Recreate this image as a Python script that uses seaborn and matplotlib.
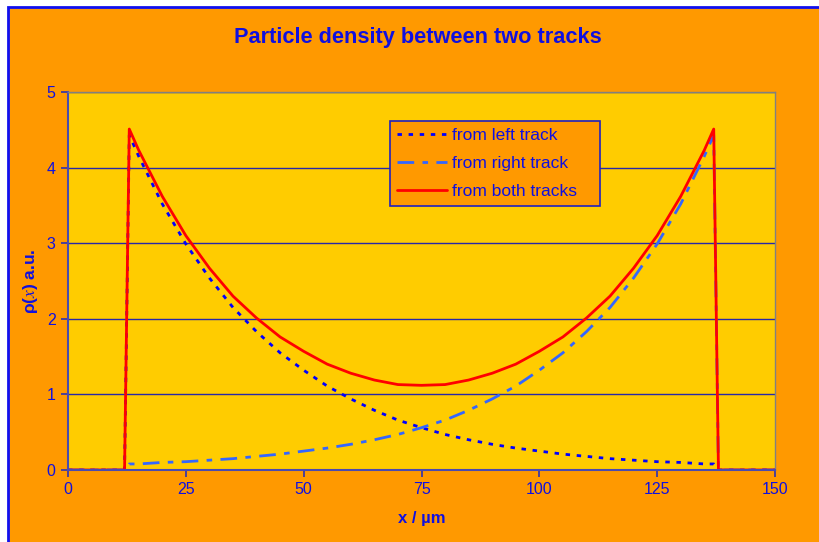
import matplotlib
matplotlib.use("Agg")
import matplotlib.pyplot as plt
from matplotlib.patches import Rectangle
import pandas as pd
import seaborn as sns

# Position across the gap between the tracks (µm)
x_um = [0, 5, 10, 12, 13, 15, 20, 25, 30, 35, 40, 45, 50, 55, 60, 65, 70, 75,
        80, 85, 90, 95, 100, 105, 110, 115, 120, 125, 130, 135, 137, 138, 140, 145, 150]

# Density contributions (arbitrary units)
from_left = [0, 0, 0, 0, 4.43, 4.15, 3.52, 2.99, 2.54, 2.15, 1.83, 1.55, 1.32, 1.11,
             0.94, 0.79, 0.66, 0.56, 0.47, 0.40, 0.34, 0.29, 0.25, 0.21, 0.18, 0.15,
             0.13, 0.11, 0.10, 0.08, 0.08, 0, 0, 0, 0]
from_right = [0, 0, 0, 0, 0.08, 0.08, 0.10, 0.11, 0.13, 0.15, 0.18, 0.21, 0.25, 0.29,
              0.34, 0.40, 0.47, 0.56, 0.66, 0.79, 0.94, 1.11, 1.32, 1.55, 1.83, 2.15,
              2.54, 2.99, 3.52, 4.15, 4.43, 0, 0, 0, 0]
from_both = [0, 0, 0, 0, 4.51, 4.23, 3.62, 3.10, 2.67, 2.30, 2.01, 1.76, 1.57, 1.40,
             1.28, 1.19, 1.13, 1.12, 1.13, 1.19, 1.28, 1.40, 1.57, 1.76, 2.01, 2.30,
             2.67, 3.10, 3.62, 4.23, 4.51, 0, 0, 0, 0]

x_ticks = [0, 25, 50, 75, 100, 125, 150]
y_ticks = [0, 1, 2, 3, 4, 5]

df = pd.DataFrame({"x": x_um, "left": from_left, "right": from_right, "both": from_both})

sns.set_theme(style="white")
plt.rcParams["font.family"] = ["Liberation Sans", "DejaVu Sans"]
plt.rcParams["mathtext.fontset"] = "stix"

ORANGE = "#FF9900"
YELLOW = "#FFCC00"
BLUE_TXT = "#1010E0"

fig = plt.figure(figsize=(8.19, 5.42), dpi=100, facecolor="white")
# Chart area frame behind everything
frame = Rectangle((8 / 819, -0.05), 1.1, 1.05 - 7 / 542,
                  transform=fig.transFigure, facecolor=ORANGE,
                  edgecolor="#1010F0", linewidth=2.0, zorder=-10)
fig.add_artist(frame)

ax = fig.add_axes([68 / 819, 1 - 470 / 542, 707 / 819, 378 / 542])
ax.set_zorder(5)
ax.set_facecolor(YELLOW)

sns.lineplot(data=df, x="x", y="left", ax=ax, color="#0000FF", lw=2.0,
             linestyle=(0, (1.6, 2.4)), label="from left track")
sns.lineplot(data=df, x="x", y="right", ax=ax, color="#3366FF", lw=2.0,
             linestyle=(0, (6, 3, 2, 3)), label="from right track")
sns.lineplot(data=df, x="x", y="both", ax=ax, color="#FF0000", lw=2.0,
             label="from both tracks")

ax.set_xlim(0, 150)
ax.set_ylim(0, 5)
ax.set_xticks(x_ticks)
ax.set_yticks(y_ticks)
ax.yaxis.grid(True, color="#2828A8", lw=1.0)
ax.xaxis.grid(False)
ax.set_axisbelow(True)

for side in ["left", "bottom"]:
    ax.spines[side].set_color("#4A4AB0")
    ax.spines[side].set_linewidth(1.5)
for side in ["top", "right"]:
    ax.spines[side].set_color("#808080")
    ax.spines[side].set_linewidth(1.0)

ax.tick_params(axis="both", which="major", direction="out", length=5, width=1.2,
               color="#3030B0", labelcolor=BLUE_TXT, labelsize=11.5,
               bottom=True, left=True, pad=4)

ax.set_xlabel("x / µm", fontsize=12, fontweight="bold", color=BLUE_TXT, labelpad=10)
ax.set_ylabel("ρ($x$) a.u.", fontsize=12.5, fontweight="bold", color=BLUE_TXT, labelpad=5)

fig.text(418 / 819, 1 - 38 / 542, "Particle density between two tracks",
         ha="center", va="center", fontsize=15.7, fontweight="bold", color=BLUE_TXT)

leg_x0 = (390 - 68) / 707
leg_w = (600 - 390) / 707
leg_top = (470 - 121) / 378
leg = ax.legend(loc="upper left", bbox_to_anchor=(leg_x0, leg_top - 0.3, leg_w, 0.3),
                mode="expand", frameon=True, fancybox=False, facecolor=ORANGE,
                edgecolor="#2020C0", framealpha=1.0, fontsize=12.5, handlelength=2.9,
                handletextpad=0.25, borderpad=0.4, labelspacing=0.75, borderaxespad=0)
leg.get_frame().set_linewidth(1.2)
for t in leg.get_texts():
    t.set_color(BLUE_TXT)

fig.savefig("out.png", dpi=100, facecolor=fig.get_facecolor())
